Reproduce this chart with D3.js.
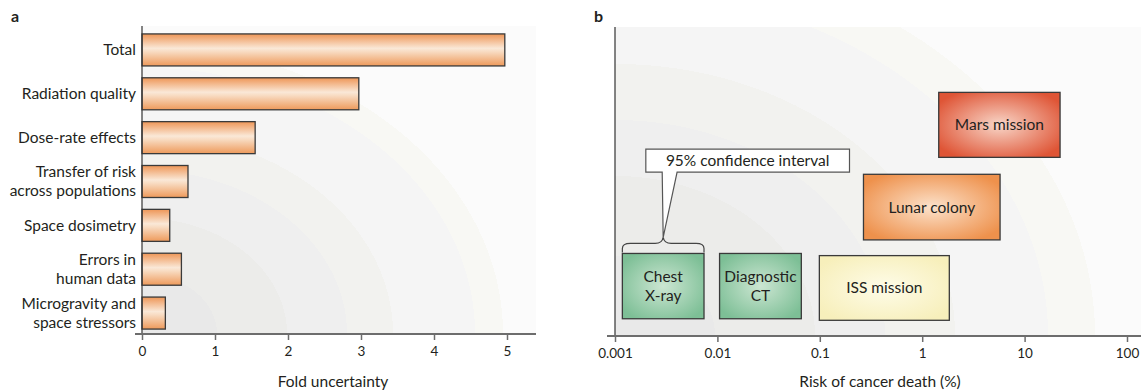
<!DOCTYPE html>
<html lang="en">
<head>
<meta charset="UTF-8">
<title>Radiation risk uncertainty</title>
<script src="https://d3js.org/d3.v7.min.js"></script>
<style>
  body { margin: 0; background: #fff; }
  svg text { font-family: Lato, "Open Sans", sans-serif; fill: #231f20; }
  .tick line { stroke: #6d6d6d; stroke-width: 1.5; }
  .domain { display: none; }
</style>
</head>
<body>
<svg width="1141" height="390"></svg>
<script>
// panel a: fold uncertainty per source
const factors = [
  ["Total"], ["Radiation quality"], ["Dose-rate effects"],
  ["Transfer of risk", "across populations"], ["Space dosimetry"],
  ["Errors in", "human data"], ["Microgravity and", "space stressors"]
];
const foldValues = [4.97, 2.97, 1.55, 0.63, 0.38, 0.54, 0.32];
const foldTicks = [0, 1, 2, 3, 4, 5];

// panel b: risk of cancer death (%), 95% CI boxes
const scenarios = [["Chest", "X-ray"], ["Diagnostic", "CT"], ["ISS mission"], ["Lunar colony"], ["Mars mission"]];
const riskLow = [0.00118, 0.0105, 0.099, 0.267, 1.45];
const riskHigh = [0.0074, 0.066, 1.84, 5.76, 22.2];
const levelBottom = [0.56, 0.56, 0.51, 3.12, 5.80];
const levelTop = [2.68, 2.68, 2.61, 5.25, 7.91];
const riskTicks = [0.001, 0.01, 0.1, 1, 10, 100];
const riskTickLabels = ["0.001", "0.01", "0.1", "1", "10", "100"];
const calloutX = [0.002, 0.195];
const calloutLevel = [5.32, 6.07];
const calloutBaseX = [0.00289, 0.00404];

const FS = 15.5;      // label font size
const LINE = 19;      // two-line spacing

const svg = d3.select("svg");
const defs = svg.append("defs");

// background: soft concentric bands from the origin
function bandGradient(id, cx, cy, radii, colors) {
  const rMax = radii[radii.length - 1];
  const g = defs.append("radialGradient").attr("id", id)
    .attr("gradientUnits", "userSpaceOnUse")
    .attr("cx", cx).attr("cy", cy).attr("r", rMax).attr("fx", cx).attr("fy", cy)
    .attr("gradientTransform", `translate(${cx},${cy}) scale(1,0.8) translate(${-cx},${-cy})`);
  let prev = 0;
  radii.forEach((r, i) => {
    g.append("stop").attr("offset", prev / rMax).attr("stop-color", colors[i]);
    g.append("stop").attr("offset", r / rMax).attr("stop-color", colors[i]);
    prev = r;
  });
}
const bandColors = ["#e9e9e9", "#ececea", "#efefef", "#f2f2ef", "#f5f5f5", "#f8f8f4", "#fbfbfb"];

// bar gradient
const barGrad = defs.append("linearGradient").attr("id", "barGrad")
  .attr("x1", 0).attr("x2", 0).attr("y1", 0).attr("y2", 1);
[["0", "#ee9657"], ["0.45", "#fae8d7"], ["0.55", "#f8dcc3"], ["1", "#ee9a5b"]]
  .forEach(([o, c]) => barGrad.append("stop").attr("offset", o).attr("stop-color", c));

// box gradients
const boxColors = [["#cce6d2", "#7dbf96"], ["#cce6d2", "#7dbf96"], ["#fefce8", "#f7efbb"],
                   ["#fce2cb", "#ee914c"], ["#f8d6c8", "#df5536"]];
boxColors.forEach((c, i) => {
  const g = defs.append("radialGradient").attr("id", "box" + i).attr("r", 0.6);
  g.append("stop").attr("offset", 0).attr("stop-color", c[0]);
  g.append("stop").attr("offset", 1).attr("stop-color", c[1]);
});

function multiline(sel, lines, x) {
  lines.forEach((s, j) => sel.append("tspan").attr("x", x)
    .attr("dy", j === 0 ? (lines.length === 1 ? "0.35em" : `${0.35 * FS - LINE / 2}px`) : `${LINE}px`)
    .text(s));
}

// ---------- panel a ----------
const aLeft = 142, aRight = 536, aTop = 26, aBottom = 334;
bandGradient("bgA", aLeft, aBottom, [75, 145, 205, 251, 333, 361, 480], bandColors);
svg.append("rect").attr("x", aLeft).attr("y", aTop).attr("width", aRight - aLeft)
  .attr("height", aBottom - aTop).attr("fill", "url(#bgA)");

const xA = d3.scaleLinear().domain([0, 5]).range([142, 507]);
const yA = d3.scaleBand().domain(d3.range(factors.length)).range([28, 335])
  .paddingInner(0.27).paddingOuter(0.135);

svg.append("g").selectAll("rect").data(foldValues).join("rect")
  .attr("x", xA(0)).attr("y", (d, i) => yA(i))
  .attr("width", d => xA(d) - xA(0)).attr("height", yA.bandwidth())
  .attr("fill", "url(#barGrad)").attr("stroke", "#3a3a3a").attr("stroke-width", 1.3);

svg.append("g").selectAll("text").data(factors).join("text")
  .attr("text-anchor", "end").attr("font-size", FS)
  .attr("y", (d, i) => yA(i) + yA.bandwidth() / 2)
  .each(function (lines) { multiline(d3.select(this), lines, aLeft - 6); });

svg.append("line").attr("x1", aLeft).attr("x2", aLeft).attr("y1", aTop).attr("y2", aBottom)
  .attr("stroke", "#333").attr("stroke-width", 1.2);
svg.append("line").attr("x1", 135).attr("x2", aRight).attr("y1", aBottom).attr("y2", aBottom)
  .attr("stroke", "#6d6d6d").attr("stroke-width", 2);
const axA = svg.append("g").attr("transform", `translate(0,${aBottom})`)
  .call(d3.axisBottom(xA).tickValues(foldTicks).tickSize(6).tickPadding(6).tickFormat(d3.format("d")));
axA.selectAll(".tick text").attr("font-size", 13.5);

svg.append("text").attr("x", 333).attr("y", 387).attr("text-anchor", "middle")
  .attr("font-size", FS).text("Fold uncertainty");
svg.append("text").attr("x", 11).attr("y", 22).attr("font-size", 16)
  .attr("font-weight", "bold").text("a");

// ---------- panel b ----------
const bLeft = 615, bRight = 1141, bTop = 27, bBottom = 336;
bandGradient("bgB", bLeft, bBottom, [100, 200, 270, 340, 433, 480, 602], bandColors);
svg.append("rect").attr("x", bLeft).attr("y", bTop).attr("width", bRight - bLeft)
  .attr("height", bBottom - bTop).attr("fill", "url(#bgB)");

const xB = d3.scaleLog().domain([0.001, 100]).range([615, 1127]);
const yB = d3.scaleLinear().domain([0, 10]).range([336, 28]);

const boxes = svg.append("g").selectAll("g").data(scenarios).join("g");
boxes.append("rect")
  .attr("x", (d, i) => xB(riskLow[i]))
  .attr("y", (d, i) => yB(levelTop[i]))
  .attr("width", (d, i) => xB(riskHigh[i]) - xB(riskLow[i]))
  .attr("height", (d, i) => yB(levelBottom[i]) - yB(levelTop[i]))
  .attr("fill", (d, i) => `url(#box${i})`)
  .attr("stroke", "#3a3a3a").attr("stroke-width", 1.3);
boxes.append("text")
  .attr("text-anchor", "middle").attr("font-size", FS)
  .each(function (lines, i) {
    const cx = (xB(riskLow[i]) + xB(riskHigh[i])) / 2;
    const cy = (yB(levelTop[i]) + yB(levelBottom[i])) / 2;
    multiline(d3.select(this).attr("y", cy), lines, cx);
  });

// brace over chest X-ray interval
const bx0 = xB(riskLow[0]), bx1 = xB(riskHigh[0]), by = yB(levelTop[0]);
const apexX = xB(Math.sqrt(riskLow[0] * riskHigh[0])), apexY = by - 16;
const braceY = by - 10;
const brace = d3.path();
brace.moveTo(bx0, by - 1);
brace.lineTo(bx0, braceY + 5);
brace.quadraticCurveTo(bx0, braceY, bx0 + 8, braceY);
brace.lineTo(apexX - 8, braceY);
brace.quadraticCurveTo(apexX - 1, braceY, apexX, apexY);
brace.quadraticCurveTo(apexX + 1, braceY, apexX + 8, braceY);
brace.lineTo(bx1 - 8, braceY);
brace.quadraticCurveTo(bx1, braceY, bx1, braceY + 5);
brace.lineTo(bx1, by - 1);
svg.append("path").attr("d", brace.toString()).attr("fill", "none")
  .attr("stroke", "#444").attr("stroke-width", 1.2);

// callout box with pointer
const cl = xB(calloutX[0]), cr = xB(calloutX[1]);
const ct = yB(calloutLevel[1]), cb = yB(calloutLevel[0]);
const callout = d3.path();
callout.moveTo(cl, ct);
callout.lineTo(cr, ct);
callout.lineTo(cr, cb);
callout.lineTo(xB(calloutBaseX[1]), cb);
callout.lineTo(apexX, apexY);
callout.lineTo(xB(calloutBaseX[0]), cb);
callout.lineTo(cl, cb);
callout.closePath();
svg.append("path").attr("d", callout.toString()).attr("fill", "#fff")
  .attr("stroke", "#555").attr("stroke-width", 1.2);
svg.append("text").attr("x", (cl + cr) / 2).attr("y", (ct + cb) / 2).attr("dy", "0.35em")
  .attr("text-anchor", "middle").attr("font-size", FS).text("95% confidence interval");

svg.append("line").attr("x1", bLeft).attr("x2", bLeft).attr("y1", bTop).attr("y2", bBottom)
  .attr("stroke", "#333").attr("stroke-width", 1.2);
svg.append("line").attr("x1", 607).attr("x2", bRight).attr("y1", bBottom).attr("y2", bBottom)
  .attr("stroke", "#6d6d6d").attr("stroke-width", 2);
const axB = svg.append("g").attr("transform", `translate(0,${bBottom})`)
  .call(d3.axisBottom(xB).tickValues(riskTicks).tickSize(6).tickPadding(6)
    .tickFormat((d, i) => riskTickLabels[i]));
axB.selectAll(".tick text").attr("font-size", 13.5);

svg.append("text").attr("x", 880).attr("y", 387).attr("text-anchor", "middle")
  .attr("font-size", FS).text("Risk of cancer death (%)");
svg.append("text").attr("x", 594).attr("y", 22).attr("font-size", 16)
  .attr("font-weight", "bold").text("b");
</script>
</body>
</html>
